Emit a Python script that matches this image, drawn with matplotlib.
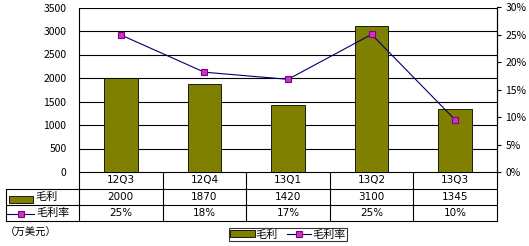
import matplotlib.pyplot as plt
from matplotlib.patches import Rectangle

plt.rcParams['font.family'] = ['Noto Sans CJK SC', 'DejaVu Sans']

quarters = ['12Q3', '12Q4', '13Q1', '13Q2', '13Q3']
profit = [2000, 1870, 1420, 3100, 1345]
margin = [0.250, 0.182, 0.169, 0.251, 0.095]
margin_labels = ['25%', '18%', '17%', '25%', '10%']

W, H = 529, 246
bar_color = '#808000'
mk_face = '#CC33CC'
mk_edge = '#800080'
line_color = '#000066'
num_font = ['DejaVu Sans']

fig = plt.figure(figsize=(W / 100, H / 100), dpi=100)

# plot area in pixels
x0, x1, ytop, ybot = 79, 497, 7.5, 172
ax = fig.add_axes([x0 / W, 1 - ybot / H, (x1 - x0) / W, (ybot - ytop) / H])
xs = range(len(quarters))
bars = ax.bar(xs, profit, width=0.4, color=bar_color, edgecolor='black', linewidth=0.6, zorder=3)
ax.set_xlim(-0.5, len(quarters) - 0.5)
ax.set_ylim(0, 3500)
ax.set_yticks(range(0, 3501, 500))
ax.tick_params(axis='y', length=0, labelsize=7.5, pad=9)
ax.set_xticks([])
ax.grid(axis='y', color='black', linewidth=0.8, zorder=0)
for s in ['top', 'bottom']:
    ax.spines[s].set_visible(False)
ax.spines['left'].set_linewidth(0.8)

ax2 = ax.twinx()
ln, = ax2.plot(xs, margin, color=line_color, linewidth=0.8, marker='s', markersize=5,
               markerfacecolor=mk_face, markeredgecolor=mk_edge, markeredgewidth=0.8, zorder=5)
ax2.set_ylim(0, 0.30)
ax2.set_yticks([i / 100 for i in range(0, 31, 5)])
ax2.set_yticklabels([f'{i}%' for i in range(0, 31, 5)])
ax2.tick_params(axis='y', length=3, width=0.8, labelsize=7.5, pad=3)
for s in ['top', 'bottom', 'left']:
    ax2.spines[s].set_visible(False)
ax2.spines['right'].set_linewidth(0.8)

# data table under the chart, drawn in pixel coordinates
tb = fig.add_axes([0, 0, 1, 1], zorder=-1)
tb.set_xlim(0, W)
tb.set_ylim(H, 0)
tb.axis('off')
rows = [172, 188.5, 205, 221]
colw = (x1 - x0) / len(quarters)
kw = dict(color='black', linewidth=0.8)
tb.plot([x0, x1], [rows[0], rows[0]], **kw)
for r in rows[1:]:
    tb.plot([5.5, x1], [r, r], **kw)
tb.plot([5.5, 5.5], [rows[1], rows[3]], **kw)
for i in range(len(quarters) + 1):
    tb.plot([x0 + i * colw] * 2, [rows[0], rows[3]], **kw)
for i, q in enumerate(quarters):
    cx = x0 + (i + 0.5) * colw
    tb.text(cx, (rows[0] + rows[1]) / 2, q, ha='center', va='center', fontsize=7.5, family=num_font)
    tb.text(cx, (rows[1] + rows[2]) / 2, str(profit[i]), ha='center', va='center', fontsize=7.5, family=num_font)
    tb.text(cx, (rows[2] + rows[3]) / 2, margin_labels[i], ha='center', va='center', fontsize=7.5, family=num_font)

# row keys
tb.add_patch(Rectangle((9, 196), 24, 6.5, facecolor=bar_color, edgecolor='black', linewidth=0.6))
tb.text(35, (rows[1] + rows[2]) / 2, '毛利', ha='left', va='center', fontsize=8)
tb.plot([7, 34], [214, 214], color=line_color, linewidth=0.8)
tb.plot([21], [214], marker='s', markersize=5, markerfacecolor=mk_face, markeredgecolor=mk_edge,
        markeredgewidth=0.8)
tb.text(36, (rows[2] + rows[3]) / 2, '毛利率', ha='left', va='center', fontsize=8)
tb.text(5, 233, '（万美元）', ha='left', va='center', fontsize=7.5)

leg = fig.legend([bars, ln], ['毛利', '毛利率'], loc='center', bbox_to_anchor=(288 / W, 1 - 234.5 / H),
                 ncol=2, fontsize=8, frameon=True, fancybox=False, edgecolor='black',
                 handlelength=2.2, handleheight=0.6, handletextpad=0.1, columnspacing=0.8,
                 borderpad=0.15, borderaxespad=0)
leg.get_frame().set_linewidth(0.8)

fig.savefig('out.png', dpi=100)
